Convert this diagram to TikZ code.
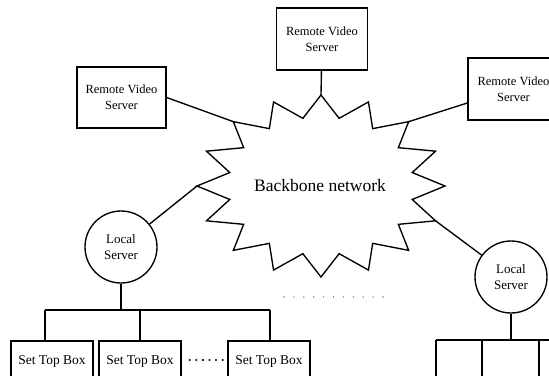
\documentclass[tikz,border=0pt]{standalone}
\usepackage{fontspec}
\setmainfont{Liberation Serif}
\begin{document}
\begin{tikzpicture}[x=1pt,y=-1pt,line width=1.35pt,
  rvs/.style={draw,rectangle,minimum width=91pt,minimum height=62pt,align=center,font=\fontsize{12.5}{16}\selectfont,inner sep=1pt},
  loc/.style={draw,circle,minimum size=72pt,align=center,font=\fontsize{13}{16}\selectfont,inner sep=0pt},
  stb/.style={draw,rectangle,minimum width=82pt,minimum height=40pt,font=\fontsize{13.5}{16}\selectfont,inner sep=1pt}]
\useasboundingbox (0,0) rectangle (549,375);
% star coordinates
\foreach \k in {0,...,15}{
  \coordinate (p\k) at ({321+124*cos(90+22.5*\k)},{186-91*sin(90+22.5*\k)});
  \coordinate (q\k) at ({321+93*cos(101.25+22.5*\k)},{186-69*sin(101.25+22.5*\k)});
}
\draw[line join=miter] (p0) \foreach \k [count=\j from 0] in {1,...,15}{ -- (q\j) -- (p\k) } -- (q15) -- cycle;
\node[font=\fontsize{17.5}{20}\selectfont] (bb) at (320,186) {Backbone network};
% remote servers
\node[rvs] (tbox) at (322,39) {Remote Video\\Server};
\node[rvs,minimum width=89pt,minimum height=61pt] (lbox) at (121.5,97.5) {Remote Video\\Server};
\node[rvs] (rbox) at (513.5,89) {Remote Video\\Server};
\draw (tbox) -- (p0);
\draw (lbox.east) -- (p2);
\draw ([yshift=-14pt]rbox.west) -- (p14);
% local servers
\node[loc] (lcirc) at (121,247) {Local\\Server};
\node[loc] (rcirc) at (511,277) {Local\\Server};
\draw (lcirc) -- (p4);
\draw (rcirc) -- (p11);
% left tree
\node[stb] (s1) at (52,361) {Set Top Box};
\node[stb] (s2) at (140,361) {Set Top Box};
\node[stb] (s3) at (269,361) {Set Top Box};
\coordinate (lj) at (121,310);
\coordinate (b1) at (45,310);
\coordinate (b2) at (140,310);
\coordinate (b3) at (270,310);
\draw (lcirc) -- (lj);
\draw (b1) -- (b3);
\draw (b1) -- (b1 |- s1.north);
\draw (b2) -- (s2.north);
\draw (b3) -- (b3 |- s3.north);
\draw[line width=2.3pt,line cap=round,dash pattern=on 0pt off 6.6pt] (s2.east |- 0,360) ++(8,0) coordinate (d1) -- ([xshift=-2pt]d1 -| s3.west);
% right tree
\coordinate (rj) at (511,340);
\coordinate (c1) at (436,340);
\coordinate (c2) at (482,340);
\coordinate (c3) at (539,340);
\coordinate (cend) at (560,340);
\draw (rcirc) -- (rj);
\draw (c1) -- (cend);
\draw (c1) -- ++(0,40);
\draw (c2) -- ++(0,40);
\draw (c3) -- ++(0,40);
% middle dots
\coordinate (m1) at (284,297);
\coordinate (m2) at (384,297);
\draw[gray,line width=1.6pt,line cap=round,dash pattern=on 0pt off 9.9pt] (m1) -- (m2);
\end{tikzpicture}
\end{document}
